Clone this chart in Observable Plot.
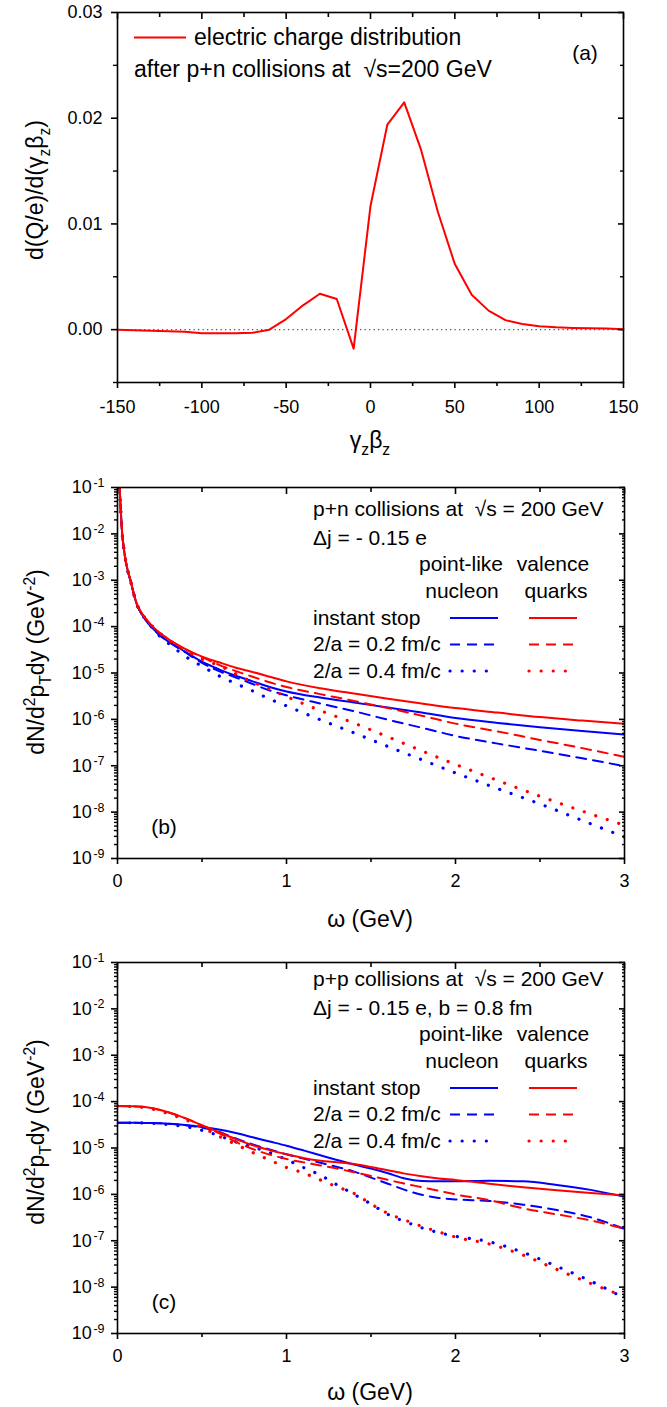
<!DOCTYPE html>
<html><head><meta charset="utf-8">
<script src="https://cdn.jsdelivr.net/npm/d3@7"></script>
<script src="https://cdn.jsdelivr.net/npm/@observablehq/plot@0.6"></script>
<style>
html,body{margin:0;padding:0;background:#fff;}
#wrap{position:relative;width:667px;height:1407px;font-family:"Liberation Sans",Arial,sans-serif;}
.panel{position:absolute;left:0;}
</style></head><body><div id="wrap"></div>
<script>
const FONT = "'Liberation Sans', Arial, sans-serif";
const RED = "#ff0000", BLUE = "#0000ff";

// ---------- Panel (a): electric charge distribution ----------
const aGamma  = [-150,-140,-130,-120,-110,-100,-90,-80,-70,-60,-50,-40,-30,-20,-10,0,10,20,30,40,50,60,70,80,90,100,110,120,130,140,150];
const aCharge = [0,-0.00005,-0.0001,-0.00015,-0.0002,-0.00035,-0.00035,-0.00035,-0.0003,0,0.001,0.0023,0.0034,0.0029,-0.0018,0.0117,0.0194,0.0215,0.0170,0.0111,0.0062,0.0033,0.0018,0.0009,0.00054,0.00032,0.00022,0.00016,0.00013,0.0001,0.00003];
const aXTicks = [-150,-100,-50,0,50,100,150];
const aXMinor = [-125,-75,-25,25,75,125];
const aYTicks = [0,0.01,0.02,0.03];
const aYMinor = [-0.005,0.005,0.015,0.025];

// ---------- Panel (b): p+n ----------
const bOmega = [0.0125,0.018,0.028,0.04,0.055,0.077,0.1,0.116,0.13,0.155,0.185,0.22,0.25,0.3,0.4,0.5,0.6,0.7,0.8,0.9,1.0,1.2,1.4,1.6,1.8,2.0,2.25,2.5,2.75,3.0];
const bNucleonInstant = [1e-1,4e-2,1e-2,4.1e-3,1.95e-3,9.7e-4,4.5e-4,2.9e-4,2.25e-4,1.6e-4,1.15e-4,8.3e-5,6.5e-5,4.8e-5,2.9e-5,1.75e-5,1.2e-5,8.7e-6,6.6e-6,5e-6,4e-6,2.95e-6,2.3e-6,1.8e-6,1.4e-6,1.07e-6,8.4e-7,6.8e-7,5.6e-7,4.7e-7];
const bNucleon02 = [1e-1,4e-2,1e-2,4.1e-3,1.95e-3,9.7e-4,4.5e-4,2.9e-4,2.25e-4,1.6e-4,1.15e-4,8.3e-5,6.5e-5,4.8e-5,2.8e-5,1.65e-5,1.1e-5,8e-6,5.8e-6,4.2e-6,3.3e-6,2.2e-6,1.5e-6,9.8e-7,6.6e-7,4.4e-7,3e-7,2.1e-7,1.45e-7,9.8e-8];
const bNucleon04 = [1e-1,4e-2,1e-2,4.1e-3,1.95e-3,9.7e-4,4.5e-4,2.9e-4,2.25e-4,1.6e-4,1.15e-4,8.3e-5,6.2e-5,4.4e-5,2.3e-5,1.4e-5,8.7e-6,5.9e-6,4.1e-6,2.75e-6,1.95e-6,9.8e-7,5.1e-7,2.6e-7,1.35e-7,7e-8,3.2e-8,1.5e-8,6.6e-9,2.9e-9];
const bQuarkInstant = [1e-1,4e-2,1e-2,4.2e-3,2e-3,1e-3,4.6e-4,3e-4,2.35e-4,1.7e-4,1.24e-4,9.1e-5,7.3e-5,5.4e-5,3.3e-5,2.25e-5,1.7e-5,1.3e-5,1.05e-5,8.3e-6,6.6e-6,4.7e-6,3.6e-6,2.8e-6,2.2e-6,1.75e-6,1.4e-6,1.12e-6,9.4e-7,8e-7];
const bQuark02 = [1e-1,4e-2,1e-2,4.2e-3,2e-3,1e-3,4.6e-4,3e-4,2.35e-4,1.7e-4,1.24e-4,9.1e-5,7.3e-5,5.4e-5,3.25e-5,2.2e-5,1.5e-5,1.1e-5,8.3e-6,6.3e-6,5e-6,3.5e-6,2.5e-6,1.75e-6,1.2e-6,8.1e-7,5.5e-7,3.6e-7,2.4e-7,1.55e-7];
const bQuark04 = [1e-1,4e-2,1e-2,4.2e-3,2e-3,1e-3,4.6e-4,3e-4,2.35e-4,1.7e-4,1.24e-4,9.1e-5,7.3e-5,5.2e-5,3.1e-5,2e-5,1.45e-5,9.6e-6,6.4e-6,4.5e-6,3.1e-6,1.55e-6,8.3e-7,4.2e-7,2.1e-7,1.07e-7,4.8e-8,2.2e-8,1.05e-8,5.2e-9];

// ---------- Panel (c): p+p ----------
const cOmega = [0,0.1,0.2,0.3,0.4,0.5,0.6,0.7,0.8,0.9,1.0,1.1,1.2,1.3,1.4,1.5,1.6,1.7,1.8,1.9,2.0,2.2,2.4,2.6,2.8,3.0];
const cNucleonInstant = [3.5e-5,3.5e-5,3.45e-5,3.35e-5,3.15e-5,2.85e-5,2.5e-5,2.1e-5,1.7e-5,1.38e-5,1.12e-5,8.9e-6,7e-6,5.5e-6,4.4e-6,3.6e-6,2.85e-6,2.2e-6,1.95e-6,1.92e-6,1.92e-6,1.97e-6,1.92e-6,1.6e-6,1.25e-6,8.9e-7];
const cNucleon02 = [3.5e-5,3.5e-5,3.45e-5,3.35e-5,3.1e-5,2.75e-5,2.25e-5,1.6e-5,1.2e-5,9.3e-6,7.3e-6,5.9e-6,4.8e-6,3.9e-6,3.1e-6,2.3e-6,1.7e-6,1.25e-6,9.8e-7,8.4e-7,7.8e-7,7.2e-7,6e-7,4.6e-7,3.2e-7,1.8e-7];
const cNucleon04 = [3.5e-5,3.5e-5,3.4e-5,3.2e-5,2.9e-5,2.4e-5,1.85e-5,1.35e-5,1.05e-5,8e-6,5.6e-6,3.8e-6,2.6e-6,1.6e-6,1e-6,6.2e-7,3.7e-7,2.6e-7,1.9e-7,1.5e-7,1.25e-7,9.5e-8,5.6e-8,2.8e-8,1.35e-8,5.8e-9];
const cQuarkInstant = [8e-5,7.9e-5,7.3e-5,5.9e-5,4.4e-5,3.1e-5,2.2e-5,1.55e-5,1.15e-5,9e-6,7.3e-6,6.1e-6,5.3e-6,4.9e-6,4.5e-6,3.9e-6,3.3e-6,2.8e-6,2.45e-6,2.2e-6,2.05e-6,1.7e-6,1.42e-6,1.22e-6,1.07e-6,9.5e-7];
const cQuark02 = [8e-5,7.9e-5,7.3e-5,5.9e-5,4.4e-5,3.05e-5,2.1e-5,1.35e-5,9.5e-6,7.2e-6,5.8e-6,4.9e-6,4.2e-6,3.6e-6,3e-6,2.5e-6,2.05e-6,1.7e-6,1.43e-6,1.2e-6,1e-6,7.5e-7,5e-7,3.7e-7,2.75e-7,1.8e-7];
const cQuark04 = [8e-5,7.8e-5,7e-5,5.5e-5,4.1e-5,2.8e-5,1.8e-5,1.2e-5,8e-6,5.5e-6,3.8e-6,2.9e-6,2.05e-6,1.45e-6,1.05e-6,6.2e-7,3.9e-7,2.8e-7,2.05e-7,1.55e-7,1.2e-7,8.5e-8,4.9e-8,2.4e-8,1.2e-8,6.3e-9];

const wTicks = [0,1,2,3];
const wMinor = [0.5,1.5,2.5];
const logTicks = [1e-9,1e-8,1e-7,1e-6,1e-5,1e-4,1e-3,1e-2,1e-1];
const logMinor = [];
for (let e = -9; e < -1; e++) for (let m = 2; m <= 9; m++) logMinor.push(m * Math.pow(10, e));

const STY = {
  solid: {strokeWidth: 2},
  dash: {strokeWidth: 2, strokeDasharray: "10,7"},
  dot: {strokeWidth: 3.2, strokeDasharray: "0.1,12", strokeLinecap: "round"}
};

const wrap = document.getElementById("wrap");

function richText(g, x, y, parts, {size = 20, anchor = "start", rotate = 0} = {}) {
  const t = g.append("text").attr("x", x).attr("y", y)
    .attr("font-size", size).attr("text-anchor", anchor).attr("fill", "black")
    .attr("font-family", FONT);
  if (rotate) t.attr("transform", `rotate(${rotate},${x},${y})`);
  let shift = 0;
  for (const p of parts) {
    const [s, k] = Array.isArray(p) ? p : [p, ""];
    const target = k === "sub" ? size * 0.3 : k === "sup" ? -size * 0.4 : 0;
    const ts = t.append("tspan").attr("dy", target - shift).text(s);
    if (k) ts.attr("font-size", size * 0.68);
    shift = target;
  }
  return t;
}

function frameAxes(xT, xM, yT, yM, opts) {
  const tf = () => "";
  return [
    Plot.frame({stroke: "black", strokeWidth: 1.6}),
    Plot.axisX(xT, {anchor: "bottom", tickSize: 6, tickPadding: opts.xPad, tickFormat: opts.xFmt, label: null, fontSize: 18, strokeWidth: 1.6}),
    Plot.axisX(xM, {anchor: "bottom", tickSize: 4, tickFormat: tf, label: null, strokeWidth: 1.6}),
    Plot.axisX(xT, {anchor: "top", tickSize: -6, tickFormat: tf, label: null, strokeWidth: 1.6}),
    Plot.axisX(xM, {anchor: "top", tickSize: -4, tickFormat: tf, label: null, strokeWidth: 1.6}),
    Plot.axisY(yT, {anchor: "left", tickSize: 6, tickPadding: opts.yPad, tickFormat: opts.yFmt, label: null, fontSize: opts.yFont, strokeWidth: 1.6}),
    Plot.axisY(yM, {anchor: "left", tickSize: opts.minorY, tickFormat: tf, label: null, strokeWidth: 1.4}),
    Plot.axisY(yT, {anchor: "right", tickSize: -6, tickFormat: tf, label: null, strokeWidth: 1.6}),
    Plot.axisY(yM, {anchor: "right", tickSize: -opts.minorY, tickFormat: tf, label: null, strokeWidth: 1.4})
  ];
}

function place(svg, top) {
  const d = document.createElement("div");
  d.className = "panel";
  d.style.top = top + "px";
  d.appendChild(svg);
  wrap.appendChild(d);
}

// ---------- Panel (a) ----------
{
  const svg = Plot.plot({
    width: 667, height: 470,
    marginLeft: 117, marginRight: 44, marginTop: 12, marginBottom: 88,
    style: {fontFamily: FONT, fontSize: "18px", color: "black", background: "white", overflow: "visible"},
    x: {domain: [-150, 150]},
    y: {domain: [-0.005, 0.03]},
    marks: [
      Plot.ruleY([0], {stroke: "#555", strokeWidth: 1.3, strokeDasharray: "1.3,3.2"}),
      Plot.line(aCharge, {x: aGamma, y: d => d, stroke: RED, strokeWidth: 2}),
      ...frameAxes(aXTicks, aXMinor, aYTicks, aYMinor, {
        xPad: 12, yPad: 9, yFont: 18, minorY: 4,
        xFmt: d => String(d), yFmt: d => d3.format(".2f")(d)
      })
    ]
  });
  const g = d3.select(svg).append("g");
  richText(g, 370, 448, ["γ", ["z", "sub"], "β", ["z", "sub"]], {size: 23, anchor: "middle"});
  richText(g, 43, 190, ["d(Q/e)/d(γ", ["z", "sub"], "β", ["z", "sub"], ")"], {size: 23, anchor: "middle", rotate: -90});
  g.append("line").attr("x1", 134).attr("x2", 186).attr("y1", 37.5).attr("y2", 37.5).attr("stroke", RED).attr("stroke-width", 2);
  richText(g, 194, 45, ["electric charge distribution"], {size: 23});
  richText(g, 134, 77, ["after p+n collisions at  √s=200 GeV"], {size: 23});
  richText(g, 585, 60, ["(a)"], {size: 21, anchor: "middle"});
  place(svg, 0);
}

function logPanel(top, height, mTop, mBottom, omega, series, lines, tag, tagY) {
  const marks = [];
  for (const s of series) {
    marks.push(Plot.line(s.v, {x: omega, y: d => d, stroke: s.c, ...STY[s.s], curve: "monotone-x", clip: true}));
  }
  marks.push(...frameAxes(wTicks, wMinor, logTicks, logMinor, {
    xPad: 10, yPad: 7, yFont: 18, minorY: 3,
    xFmt: d => String(d), yFmt: d => "10^" + Math.round(Math.log10(d))
  }));
  const svg = Plot.plot({
    width: 667, height,
    marginLeft: 117, marginRight: 43, marginTop: mTop, marginBottom: mBottom,
    style: {fontFamily: FONT, fontSize: "18px", color: "black", background: "white", overflow: "visible"},
    x: {domain: [0, 3]},
    y: {type: "log", domain: [1e-9, 1e-1]},
    marks
  });
  d3.select(svg).selectAll('g[aria-label="y-axis tick label"] text').each(function() {
    const t = this.textContent;
    if (t.startsWith("10^")) {
      const e = t.slice(3);
      this.textContent = "10";
      d3.select(this).append("tspan").attr("dx", "1.5").attr("dy", "-0.5em").attr("font-size", "12.5px").text(e);
    }
  });
  const g = d3.select(svg).append("g");
  richText(g, 370, height === 470 ? 457 : 460, ["ω (GeV)"], {size: 23, anchor: "middle"});
  richText(g, 44, 192, ["dN/d", ["2", "sup"], "p", ["T", "sub"], "dy (GeV", ["-2", "sup"], ")"], {size: 23, anchor: "middle", rotate: -90});
  // legend
  richText(g, 313, 46, [lines[0]], {size: 21});
  richText(g, 313, 75, [lines[1]], {size: 21});
  richText(g, 461, 101, ["point-like"], {size: 21, anchor: "middle"});
  richText(g, 553, 101, ["valence"], {size: 21, anchor: "middle"});
  richText(g, 462, 128, ["nucleon"], {size: 21, anchor: "middle"});
  richText(g, 556, 128, ["quarks"], {size: 21, anchor: "middle"});
  const rows = [["instant stop", "solid", 155, 148], ["2/a = 0.2 fm/c", "dash", 181, 174.5], ["2/a = 0.4 fm/c", "dot", 208, 201]];
  for (const [label, st, by, ly] of rows) {
    richText(g, 313, by, [label], {size: 21});
    for (const [c, x1, x2] of [[BLUE, 450, 498], [RED, 529, 577]]) {
      const l = g.append("line").attr("x1", x1).attr("x2", x2).attr("y1", ly).attr("y2", ly)
        .attr("stroke", c).attr("stroke-width", STY[st].strokeWidth);
      if (STY[st].strokeDasharray) l.attr("stroke-dasharray", STY[st].strokeDasharray);
      if (STY[st].strokeLinecap) l.attr("stroke-linecap", STY[st].strokeLinecap);
    }
  }
  richText(g, 164, tagY, [tag], {size: 21, anchor: "middle"});
  place(svg, top);
}

logPanel(470, 470, 17, 82, bOmega, [
  {v: bNucleonInstant, c: BLUE, s: "solid"},
  {v: bNucleon02, c: BLUE, s: "dash"},
  {v: bNucleon04, c: BLUE, s: "dot"},
  {v: bQuarkInstant, c: RED, s: "solid"},
  {v: bQuark02, c: RED, s: "dash"},
  {v: bQuark04, c: RED, s: "dot"}
], ["p+n collisions at  √s = 200 GeV", "Δj = - 0.15 e"], "(b)", 364);

logPanel(940, 467, 22, 74, cOmega, [
  {v: cNucleonInstant, c: BLUE, s: "solid"},
  {v: cNucleon02, c: BLUE, s: "dash"},
  {v: cNucleon04, c: BLUE, s: "dot"},
  {v: cQuarkInstant, c: RED, s: "solid"},
  {v: cQuark02, c: RED, s: "dash"},
  {v: cQuark04, c: RED, s: "dot"}
], ["p+p collisions at  √s = 200 GeV", "Δj = - 0.15 e, b = 0.8 fm"], "(c)", 369);
</script></body></html>
